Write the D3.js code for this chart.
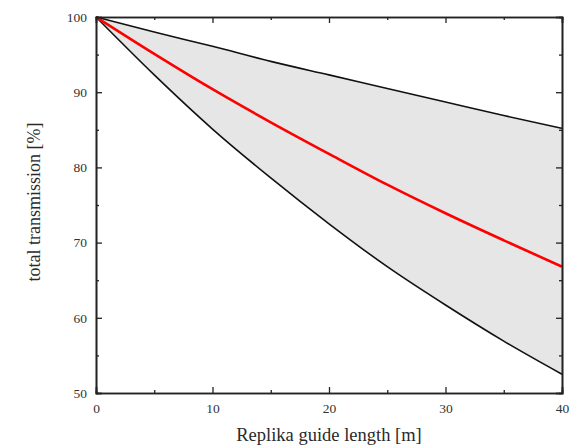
<!DOCTYPE html>
<html>
<head>
<meta charset="utf-8">
<script src="https://cdn.jsdelivr.net/npm/d3@7"></script>
<style>
  body { margin: 0; background: #fff; }
</style>
</head>
<body>
<div id="visual"></div>
<script>
var w = 570, h = 446;
var margin = {top: 17, right: 8, bottom: 53, left: 96};
var serif = "'Liberation Serif', 'Times New Roman', serif";

// guide length [m]
var lengths = [0, 5, 10, 15, 20, 25, 30, 35, 40];
// upper bound, mean (red), lower bound of transmission [%]
var upper = [100, 98.0, 96.1, 94.1, 92.3, 90.5, 88.7, 86.9, 85.2];
var mean  = [100, 95.1, 90.4, 86.0, 81.8, 77.7, 73.9, 70.3, 66.8];
var lower = [100, 92.3, 85.1, 78.6, 72.5, 66.8, 61.7, 56.9, 52.5];

var xTicks = [0, 10, 20, 30, 40];
var yTicks = [50, 60, 70, 80, 90, 100];

var svg = d3.select("#visual").append("svg")
  .attr("width", w)
  .attr("height", h)
  .attr("font-family", serif);

var iw = w - margin.left - margin.right,
    ih = h - margin.top - margin.bottom;

var x = d3.scaleLinear().domain([0, 40]).range([0, iw]);
var y = d3.scaleLinear().domain([50, 100]).range([ih, 0]);

var g = svg.append("g").attr("transform", "translate(" + margin.left + "," + margin.top + ")");

var pts = lengths.map(function(d, i){ return {x: d, up: upper[i], m: mean[i], lo: lower[i]}; });

// band
g.append("path")
  .datum(pts)
  .attr("fill", "#e6e6e6")
  .attr("d", d3.area().curve(d3.curveMonotoneX)
    .x(function(d){ return x(d.x); })
    .y0(function(d){ return y(d.lo); })
    .y1(function(d){ return y(d.up); }));

function drawLine(key, color, width) {
  g.append("path")
    .datum(pts)
    .attr("fill", "none")
    .attr("stroke", color)
    .attr("stroke-width", width)
    .attr("d", d3.line().curve(d3.curveMonotoneX)
      .x(function(d){ return x(d.x); })
      .y(function(d){ return y(d[key]); }));
}
drawLine("up", "#111", 1.6);
drawLine("lo", "#111", 1.6);
drawLine("m", "#ff0000", 2.6);

// axes: ticks pointing inside, mirrored on top/right
var xMinor = d3.range(5, 40, 10), yMinor = d3.range(55, 100, 10);

g.append("g").attr("transform", "translate(0," + ih + ")")
  .call(d3.axisBottom(x).tickValues(xTicks).tickSize(-6).tickPadding(10.5).tickFormat(d3.format("d")));
g.append("g")
  .call(d3.axisLeft(y).tickValues(yTicks).tickSize(-6).tickPadding(9).tickFormat(d3.format("d")));
g.append("g")
  .call(d3.axisTop(x).tickValues(xTicks).tickSize(-6).tickFormat(""));
g.append("g").attr("transform", "translate(" + iw + ",0)")
  .call(d3.axisRight(y).tickValues(yTicks).tickSize(-6).tickFormat(""));

g.append("g").attr("transform", "translate(0," + ih + ")")
  .call(d3.axisBottom(x).tickValues(xMinor).tickSize(-3).tickFormat(""));
g.append("g")
  .call(d3.axisTop(x).tickValues(xMinor).tickSize(-3).tickFormat(""));
g.append("g")
  .call(d3.axisLeft(y).tickValues(yMinor).tickSize(-3).tickFormat(""));
g.append("g").attr("transform", "translate(" + iw + ",0)")
  .call(d3.axisRight(y).tickValues(yMinor).tickSize(-3).tickFormat(""));

g.selectAll("g").attr("font-family", serif).attr("font-size", 13.5);
g.selectAll(".domain").attr("stroke", "#222").attr("stroke-width", 1.6);
g.selectAll(".tick line").attr("stroke", "#222").attr("stroke-width", 1.3);
g.selectAll(".tick text")
  .style("font-family", serif)
  .style("font-size", "13.5px")
  .attr("fill", "#333");

// axis titles
svg.append("text")
  .attr("x", margin.left + iw / 2)
  .attr("y", 441)
  .attr("text-anchor", "middle")
  .attr("fill", "#2a2a2a")
  .style("font-family", serif)
  .style("font-size", "18.5px")
  .text("Replika guide length [m]");

svg.append("text")
  .attr("transform", "translate(40,202) rotate(-90)")
  .attr("text-anchor", "middle")
  .attr("fill", "#2a2a2a")
  .style("font-family", serif)
  .style("font-size", "18px")
  .text("total transmission [%]");
</script>
</body>
</html>
